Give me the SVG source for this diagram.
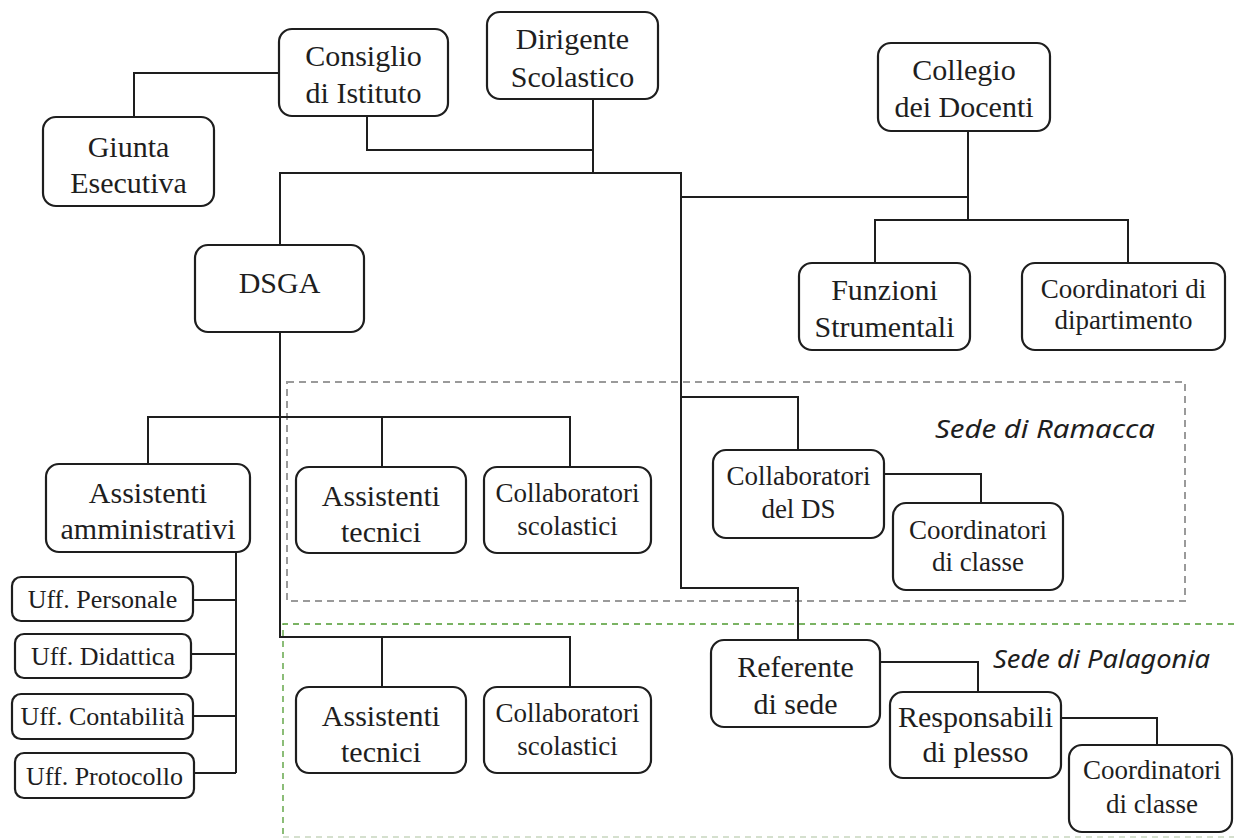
<svg xmlns="http://www.w3.org/2000/svg" width="1234" height="838" viewBox="0 0 1234 838">
<style>
.box{fill:#fff;stroke:#1e1e1e;stroke-width:2.2}
.t{font-family:"Liberation Serif","Times New Roman",serif;fill:#1e1e1e;text-anchor:middle}
.l{font-size:30px}
.s{font-size:27px}
.u{font-size:26px}
.c{fill:none;stroke:#1e1e1e;stroke-width:2}
.sede{font-family:"Noto Sans","Open Sans",sans-serif;font-style:italic;font-size:25px;fill:#1e1e1e}
</style>
<rect width="1234" height="838" fill="#fff"/>
<g id="regions">
<rect x="287" y="382" width="898" height="219" fill="none" stroke="#9a9a9a" stroke-width="2" stroke-dasharray="7,5"/>
<path d="M1234,624 H283 V837" fill="none" stroke="#4f9a30" stroke-width="1.3" stroke-dasharray="6,5"/>
<path d="M283,837 H1234" fill="none" stroke="#c8d6bf" stroke-width="1.3" stroke-dasharray="6,5"/>
<text class="sede" x="935" y="438" textLength="220" lengthAdjust="spacingAndGlyphs">Sede di Ramacca</text>
<text class="sede" x="993" y="668" textLength="217" lengthAdjust="spacingAndGlyphs">Sede di Palagonia</text>
</g>
<g id="connectors">
<path class="c" d="M279,73 H134 V117"/>
<path class="c" d="M367,116 V150 H593"/>
<path class="c" d="M593,99 V173"/>
<path class="c" d="M280,245 V173 H681 V588 H798 V640"/>
<path class="c" d="M681,397 H798 V450"/>
<path class="c" d="M968,131 V220"/>
<path class="c" d="M681,197 H968"/>
<path class="c" d="M875,263 V220 H1128 V263"/>
<path class="c" d="M280,332 V637 H570 V687"/>
<path class="c" d="M148,464 V417 H570 V467"/>
<path class="c" d="M382,417 V467"/>
<path class="c" d="M382,637 V687"/>
<path class="c" d="M236,552 V773"/>
<path class="c" d="M193,600 H236 M191,654 H236 M193,716 H236 M194,773 H236"/>
<path class="c" d="M884,474 H981 V503"/>
<path class="c" d="M880,662 H978 V692"/>
<path class="c" d="M1061,718 H1157 V745"/>
</g>
<g id="consiglio"><rect class="box" x="279" y="29" width="169" height="87" rx="13"/><text class="t l" x="363.5" y="66">Consiglio</text><text class="t l" x="363.5" y="103">di Istituto</text></g>
<g id="dirigente"><rect class="box" x="487" y="12" width="171" height="87" rx="13"/><text class="t l" x="572.5" y="49">Dirigente</text><text class="t l" x="572.5" y="87">Scolastico</text></g>
<g id="giunta"><rect class="box" x="43" y="117" width="171" height="89" rx="13"/><text class="t l" x="128.5" y="157">Giunta</text><text class="t l" x="128.5" y="193">Esecutiva</text></g>
<g id="collegio"><rect class="box" x="878" y="43" width="172" height="88" rx="13"/><text class="t l" x="964" y="80">Collegio</text><text class="t l" x="964" y="117">dei Docenti</text></g>
<g id="dsga"><rect class="box" x="195" y="245" width="169" height="87" rx="13"/><text class="t l" x="279.5" y="293">DSGA</text></g>
<g id="funzioni"><rect class="box" x="799" y="263" width="171" height="87" rx="13"/><text class="t l" x="884.5" y="300">Funzioni</text><text class="t l" x="884.5" y="337">Strumentali</text></g>
<g id="coord-dipartimento"><rect class="box" x="1022" y="263" width="203" height="87" rx="13"/><text class="t s" x="1123.5" y="298">Coordinatori di</text><text class="t s" x="1123.5" y="329">dipartimento</text></g>
<g id="assistenti-amministrativi"><rect class="box" x="46" y="464" width="204" height="88" rx="13"/><text class="t l" x="148" y="503">Assistenti</text><text class="t l" x="148" y="539">amministrativi</text></g>
<g id="assistenti-tecnici-1"><rect class="box" x="296" y="467" width="170" height="86" rx="13"/><text class="t l" x="381" y="506">Assistenti</text><text class="t l" x="381" y="542">tecnici</text></g>
<g id="collaboratori-scolastici-1"><rect class="box" x="484" y="467" width="167" height="86" rx="13"/><text class="t s" x="567.5" y="502">Collaboratori</text><text class="t s" x="567.5" y="535">scolastici</text></g>
<g id="collaboratori-ds"><rect class="box" x="713" y="450" width="171" height="88" rx="13"/><text class="t s" x="798.5" y="485">Collaboratori</text><text class="t s" x="798.5" y="518">del DS</text></g>
<g id="coord-classe-1"><rect class="box" x="893" y="503" width="170" height="87" rx="13"/><text class="t s" x="978" y="539">Coordinatori</text><text class="t s" x="978" y="571">di classe</text></g>
<g id="uff-personale"><rect class="box" x="12" y="577" width="181" height="44" rx="9"/><text class="t u" x="102.5" y="608">Uff. Personale</text></g>
<g id="uff-didattica"><rect class="box" x="15" y="634" width="176" height="44" rx="9"/><text class="t u" x="103" y="665">Uff. Didattica</text></g>
<g id="uff-contabilita"><rect class="box" x="12" y="694" width="181" height="45" rx="9"/><text class="t u" x="102.5" y="725">Uff. Contabilità</text></g>
<g id="uff-protocollo"><rect class="box" x="15" y="753" width="179" height="45" rx="9"/><text class="t u" x="104.5" y="785">Uff. Protocollo</text></g>
<g id="assistenti-tecnici-2"><rect class="box" x="296" y="687" width="170" height="86" rx="13"/><text class="t l" x="381" y="726">Assistenti</text><text class="t l" x="381" y="762">tecnici</text></g>
<g id="collaboratori-scolastici-2"><rect class="box" x="484" y="687" width="167" height="86" rx="13"/><text class="t s" x="567.5" y="722">Collaboratori</text><text class="t s" x="567.5" y="755">scolastici</text></g>
<g id="referente"><rect class="box" x="711" y="640" width="169" height="87" rx="13"/><text class="t l" x="795.5" y="677">Referente</text><text class="t l" x="795.5" y="714">di sede</text></g>
<g id="responsabili"><rect class="box" x="890" y="692" width="171" height="86" rx="13"/><text class="t l" x="975.5" y="727">Responsabili</text><text class="t l" x="975.5" y="762">di plesso</text></g>
<g id="coord-classe-2"><rect class="box" x="1069" y="745" width="163" height="87" rx="13"/><text class="t s" x="1152" y="779">Coordinatori</text><text class="t s" x="1152" y="813">di classe</text></g>
</svg>
